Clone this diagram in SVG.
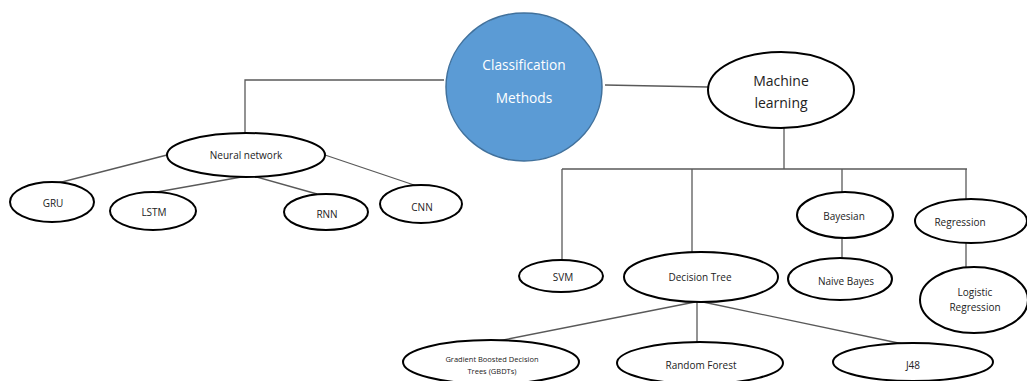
<svg xmlns="http://www.w3.org/2000/svg" width="1027" height="381" viewBox="0 0 1027 381">
<style>
.n{fill:#fff;stroke:#000;stroke-width:2}
.c{fill:none;stroke:#595959;stroke-width:1.3}
text{font-family:"Open Sans","Liberation Sans",sans-serif;fill:#222;text-anchor:middle;dominant-baseline:central;font-size:10px}
.w{fill:#fff;font-size:13.7px}
.big{font-size:14px}
.tiny{font-size:7.5px}
</style>
<rect width="1027" height="381" fill="#fff"/>
<g id="connectors">
<polyline class="c" points="444,80 245,80 245,133"/>
<line class="c" x1="167" y1="155" x2="58" y2="183"/>
<line class="c" x1="247" y1="176" x2="157" y2="192"/>
<line class="c" x1="253" y1="176" x2="317" y2="194"/>
<line class="c" x1="325" y1="155" x2="417" y2="186"/>
<line class="c" x1="605" y1="85" x2="708" y2="87"/>
<line class="c" x1="784" y1="128" x2="784" y2="169"/>
<line class="c" x1="562" y1="169" x2="967" y2="169"/>
<line class="c" x1="562" y1="169" x2="562" y2="260"/>
<line class="c" x1="692" y1="169" x2="692" y2="252"/>
<line class="c" x1="842" y1="169" x2="842" y2="192"/>
<line class="c" x1="966" y1="169" x2="966" y2="199"/>
<line class="c" x1="842" y1="238" x2="842" y2="258"/>
<line class="c" x1="966" y1="243" x2="966" y2="267"/>
<line class="c" x1="695" y1="302" x2="498" y2="341"/>
<line class="c" x1="697" y1="302" x2="697" y2="343"/>
<line class="c" x1="703" y1="302" x2="903" y2="344"/>
</g>
<g id="classification-methods">
<ellipse cx="524" cy="87" rx="78" ry="74" fill="#5b9bd5" stroke="#41719c" stroke-width="1.5"/>
<text class="w" x="524" y="64">Classification</text>
<text class="w" x="524" y="97">Methods</text>
</g>
<g id="machine-learning">
<ellipse class="n" cx="781" cy="90" rx="73" ry="38"/>
<text class="big" x="781" y="80">Machine</text>
<text class="big" x="781" y="102">learning</text>
</g>
<g id="neural-network">
<ellipse class="n" cx="246" cy="155" rx="79" ry="22"/>
<text x="246" y="155">Neural network</text>
</g>
<g id="gru">
<ellipse class="n" cx="52" cy="202" rx="42" ry="20"/>
<text x="53" y="203">GRU</text>
</g>
<g id="lstm">
<ellipse class="n" cx="153" cy="211" rx="43" ry="19"/>
<text x="154" y="212">LSTM</text>
</g>
<g id="rnn">
<ellipse class="n" cx="326" cy="212" rx="42" ry="18"/>
<text x="327" y="214">RNN</text>
</g>
<g id="cnn">
<ellipse class="n" cx="421" cy="204" rx="41" ry="19"/>
<text x="422" y="207">CNN</text>
</g>
<g id="svm">
<ellipse class="n" cx="561" cy="276" rx="42" ry="16"/>
<text x="563" y="277">SVM</text>
</g>
<g id="decision-tree">
<ellipse class="n" cx="701" cy="277" rx="77" ry="25"/>
<text x="700" y="277">Decision Tree</text>
</g>
<g id="bayesian">
<ellipse class="n" cx="845" cy="215" rx="48" ry="23"/>
<text x="844" y="216">Bayesian</text>
</g>
<g id="regression">
<ellipse class="n" cx="971" cy="221" rx="56" ry="22"/>
<text x="960" y="222">Regression</text>
</g>
<g id="naive-bayes">
<ellipse class="n" cx="840" cy="279" rx="52" ry="21"/>
<text x="846" y="281">Naive  Bayes</text>
</g>
<g id="logistic-regression">
<ellipse class="n" cx="974" cy="300" rx="54" ry="33"/>
<text x="975" y="292">Logistic</text>
<text x="975" y="307">Regression</text>
</g>
<g id="gbdt">
<ellipse class="n" cx="491" cy="362" rx="88" ry="22"/>
<text class="tiny" x="492" y="359">Gradient Boosted  Decision</text>
<text class="tiny" x="492" y="371">Trees (GBDTs)</text>
</g>
<g id="random-forest">
<ellipse class="n" cx="700" cy="363" rx="83" ry="21"/>
<text x="701" y="365">Random Forest</text>
</g>
<g id="j48">
<ellipse class="n" cx="913" cy="362" rx="80" ry="19"/>
<text x="913" y="365">J48</text>
</g>
</svg>
